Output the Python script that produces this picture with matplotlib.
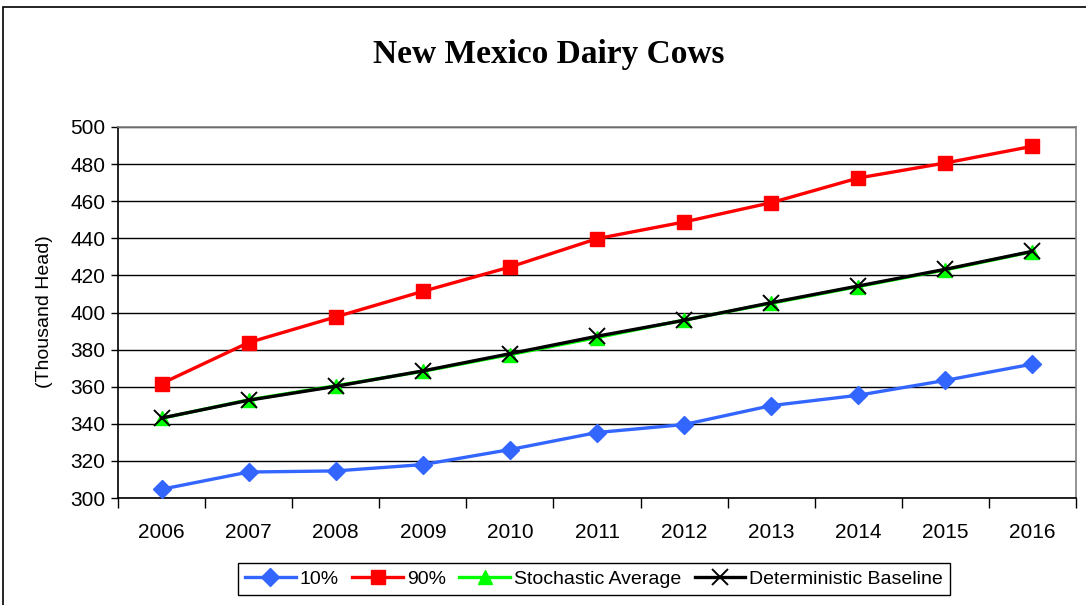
import matplotlib
matplotlib.use("Agg")
import matplotlib.pyplot as plt
from matplotlib.patches import Rectangle
from matplotlib.ticker import FixedLocator, NullFormatter

years = ["2006", "2007", "2008", "2009", "2010", "2011", "2012", "2013", "2014", "2015", "2016"]
p10 = [304.7, 314.0, 314.6, 318.0, 326.1, 335.3, 339.6, 349.8, 355.4, 363.4, 372.2]
p90 = [361.7, 383.8, 397.6, 411.4, 424.5, 439.8, 448.8, 459.2, 472.5, 480.6, 489.6]
stoch = [343.0, 352.9, 360.5, 368.3, 377.3, 386.5, 395.9, 405.0, 414.0, 423.0, 432.8]
determ = [343.1, 352.7, 360.2, 368.5, 377.8, 387.2, 395.8, 405.3, 414.3, 423.3, 433.0]
yticks = [300, 320, 340, 360, 380, 400, 420, 440, 460, 480, 500]

plt.rcParams['font.family'] = ['Liberation Sans', 'DejaVu Sans']

fig = plt.figure(figsize=(10.86, 6.05), dpi=100)
fig.patch.set_facecolor("white")
# outer chart frame
fig.patches.append(Rectangle((3/1086, -0.05), 1.2, 1 - 7/605 + 0.05, transform=fig.transFigure,
                             fill=False, edgecolor="black", linewidth=1.2))

ax = fig.add_axes([118/1086, 1 - 498/605, 958/1086, 371/605])
x = list(range(len(years)))

ax.plot(x, p10, color="#3366FF", linewidth=2.4, marker="D", markersize=9, label="10%", zorder=3)
ax.plot(x, p90, color="#FF0000", linewidth=2.4, marker="s", markersize=10, label="90%", zorder=3)
ax.plot(x, stoch, color="#00FF00", linewidth=2.4, marker="^", markersize=10, label="Stochastic Average", zorder=4)
ax.plot(x, determ, color="black", linewidth=2.4, marker="x", markersize=11, markeredgewidth=1.4,
        label="Deterministic Baseline", zorder=5)

ax.set_xlim(-0.5, len(years) - 0.5)
ax.set_ylim(300, 500)
ax.set_yticks(yticks)
ax.set_yticklabels([str(v) for v in yticks], fontsize=15)
ax.yaxis.grid(True, color="black", linewidth=1.0)
ax.set_axisbelow(True)

# category boundary ticks
ax.xaxis.set_major_locator(FixedLocator([i - 0.5 for i in range(len(years) + 1)]))
ax.xaxis.set_major_formatter(NullFormatter())
ax.xaxis.set_minor_locator(FixedLocator(x))
ax.set_xticklabels(years, minor=True, fontsize=15)
ax.tick_params(axis="x", which="major", length=7, width=1, direction="out")
ax.tick_params(axis="x", which="minor", length=0, pad=18)
ax.tick_params(axis="y", length=5, width=1, direction="out", pad=4)

for s in ["top", "right"]:
    ax.spines[s].set_color("#808080")
    ax.spines[s].set_linewidth(1.2)
for s in ["left", "bottom"]:
    ax.spines[s].set_color("black")
    ax.spines[s].set_linewidth(1.2)

fig.text(45/1086, 1 - 312/605, "(Thousand Head)", rotation=90, ha="center", va="center", fontsize=14)

fig.text(549/1086, 1 - 55/605, "New Mexico Dairy Cows", ha="center", va="center",
         fontsize=24, fontweight="bold", family="Liberation Serif")

leg = fig.legend(loc="center", bbox_to_anchor=(594/1086, 1 - 579/605), ncol=4, fontsize=14,
                 frameon=True, fancybox=False, edgecolor="black", framealpha=1,
                 handlelength=2.6, handletextpad=0.2, columnspacing=0.7, borderpad=0.35,
                 borderaxespad=0)
leg.get_frame().set_linewidth(1.0)

fig.savefig("out.png", dpi=100, facecolor="white")
